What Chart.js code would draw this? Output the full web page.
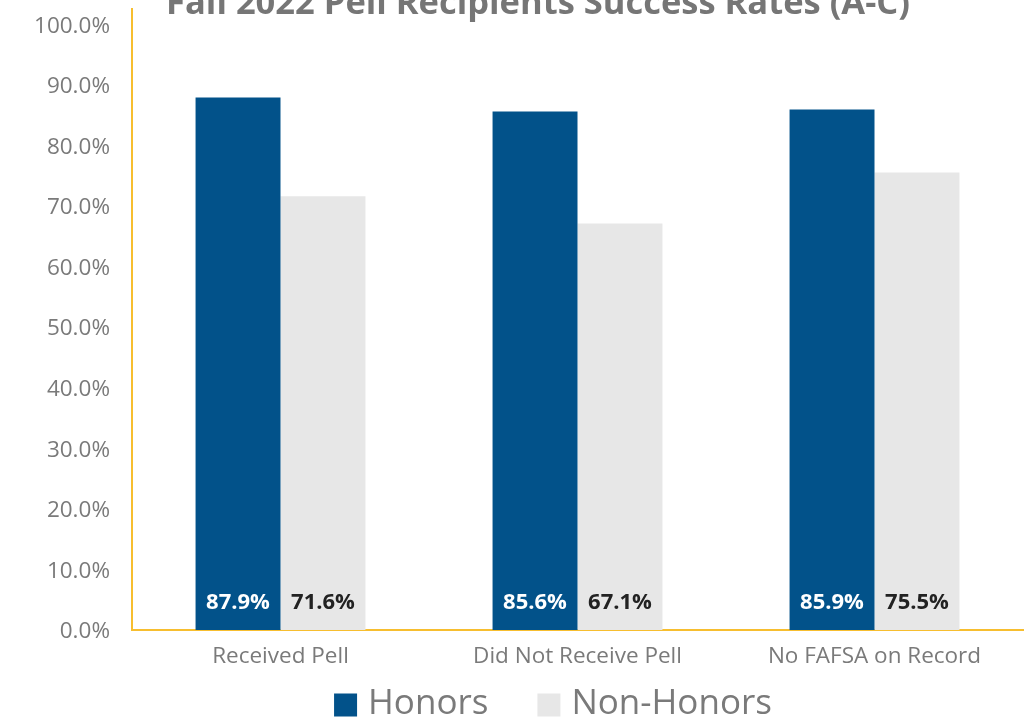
<!DOCTYPE html>
<html>
<head>
<meta charset="utf-8">
<script src="https://cdn.jsdelivr.net/npm/chart.js@4"></script>
<style>
html,body{margin:0;padding:0;background:#fff;}
#wrap{width:1029px;height:724px;position:relative;}
</style>
</head>
<body>
<div id="wrap"><canvas id="c"></canvas></div>
<script>
const titleText = 'Fall 2022 Pell Recipients Success Rates (A-C)';
const categories = ['Received Pell', 'Did Not Receive Pell', 'No FAFSA on Record'];
const seriesNames = ['Honors', 'Non-Honors'];
const honors = [87.9, 85.6, 85.9];
const nonHonors = [71.6, 67.1, 75.5];
const yTicks = [0, 10, 20, 30, 40, 50, 60, 70, 80, 90, 100];

const FONT = "'Open Sans', 'Noto Sans', sans-serif";
const GRAY = '#7a7a7a';
const GOLD = '#F7BE2F';

const titlePlugin = {
  id: 'cutTitle',
  afterDraw(chart) {
    const ctx = chart.ctx;
    ctx.save();
    ctx.font = "bold 34.5px " + FONT;
    ctx.fillStyle = '#767676';
    ctx.textAlign = 'center';
    ctx.textBaseline = 'alphabetic';
    ctx.fillText(titleText, 538, 14);
    ctx.restore();
  }
};

const valueLabels = {
  id: 'valueLabels',
  afterDatasetsDraw(chart) {
    const ctx = chart.ctx;
    const y0 = chart.scales.y.getPixelForValue(0);
    ctx.save();
    ctx.font = "bold 22px " + FONT;
    ctx.textAlign = 'center';
    ctx.textBaseline = 'middle';
    chart.data.datasets.forEach((ds, di) => {
      const meta = chart.getDatasetMeta(di);
      ctx.fillStyle = di === 0 ? '#ffffff' : '#222222';
      meta.data.forEach((bar, i) => {
        ctx.fillText(ds.data[i].toFixed(1) + '%', bar.x, y0 - 27);
      });
    });
    ctx.restore();
  }
};

const bottomLegend = {
  id: 'bottomLegend',
  afterDraw(chart) {
    const ctx = chart.ctx;
    const box = 23, gapText = 11, gapItem = 49;
    ctx.save();
    ctx.font = "35px " + FONT;
    ctx.textBaseline = 'middle';
    ctx.textAlign = 'left';
    const items = chart.data.datasets.map(ds => ({
      text: ds.label, color: ds.backgroundColor, w: ctx.measureText(ds.label).width
    }));
    let total = 0;
    items.forEach((it, i) => { total += box + gapText + it.w + (i ? gapItem : 0); });
    let x = 553 - total / 2;
    const cy = 705;
    items.forEach((it) => {
      ctx.fillStyle = it.color;
      ctx.fillRect(x, cy - box / 2, box, box);
      x += box + gapText;
      ctx.fillStyle = GRAY;
      ctx.fillText(it.text, x, cy - 1);
      x += it.w + gapItem;
    });
    ctx.restore();
  }
};

new Chart(document.getElementById('c'), {
  type: 'bar',
  data: {
    labels: categories,
    datasets: [
      { label: seriesNames[0], data: honors, backgroundColor: '#02528A', borderWidth: 0 },
      { label: seriesNames[1], data: nonHonors, backgroundColor: '#E7E7E7', borderWidth: 0 }
    ]
  },
  options: {
    responsive: true,
    maintainAspectRatio: false,
    animation: false,
    layout: { padding: { top: 9, right: 6, left: 0, bottom: 0 } },
    datasets: { bar: { categoryPercentage: 0.572, barPercentage: 1.0 } },
    plugins: {
      title: { display: false },
      tooltip: { enabled: false },
      legend: { display: false }
    },
    scales: {
      x: {
        grid: { display: false, drawTicks: false },
        border: { display: true, color: GOLD, width: 2 },
        afterFit(scale) { scale.height = 94; },
        ticks: { color: GRAY, font: { family: FONT, size: 22.5 }, padding: 13 }
      },
      y: {
        min: 0,
        max: 102.5,
        grid: { display: false, drawTicks: false },
        border: { display: true, color: GOLD, width: 2 },
        afterBuildTicks(scale) { scale.ticks = yTicks.map(v => ({ value: v })); },
        afterFit(scale) { scale.width = 132; scale.paddingTop = 0; scale.paddingBottom = 0; },
        ticks: {
          color: GRAY,
          font: { family: FONT, size: 22.5 },
          padding: 22,
          labelOffset: 2,
          callback: (v) => Number(v).toFixed(1) + '%'
        }
      }
    }
  },
  plugins: [titlePlugin, valueLabels, bottomLegend]
});
</script>
</body>
</html>
